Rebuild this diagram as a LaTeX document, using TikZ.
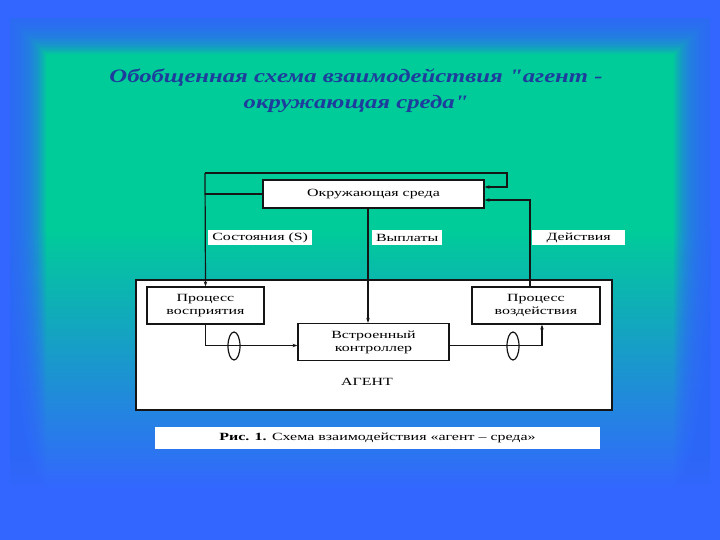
\documentclass[tikz,border=0pt]{standalone}
\usepackage{fontspec}
\setmainfont{Liberation Serif}
\newfontfamily\diagfont[FakeStretch=1.45]{Liberation Serif}
\newfontfamily\titlefont[FakeStretch=1.3]{Liberation Serif}
\usetikzlibrary{
  shapes.geometric,
  arrows.meta,
  positioning,
  calc
}
\definecolor{bgblue}{HTML}{3366FF}
\definecolor{bggreen}{HTML}{00CC99}
\definecolor{titleblue}{HTML}{1E3C9C}
\definecolor{inkblack}{HTML}{151515}
\tikzset{
  block/.style={
    rectangle, draw=inkblack, fill=white, line width=1.2pt,
    font=\diagfont\fontsize{11}{13}\selectfont, align=center, inner sep=1pt
  },
  tag/.style={
    rectangle, fill=white, anchor=west, align=left,
    minimum height=15pt, inner sep=1.5pt,
    font=\diagfont\fontsize{11}{12}\selectfont
  },
  arrow/.style={-{Stealth[length=5pt, width=3.5pt]}, line width=1.2pt, draw=inkblack},
  link/.style={line width=1.2pt, draw=inkblack},
  lens/.style={
    ellipse, draw=inkblack, line width=1.2pt,
    minimum width=12pt, minimum height=28pt, inner sep=0pt
  },
}

\begin{document}
\begin{tikzpicture}[x=1pt, y=-1pt]
\useasboundingbox (0,0) rectangle (720,540);

% background
\fill[bgblue] (0,0) rectangle (720,540);
\fill[bggreen] (10,18) rectangle (710,231);
\fill[top color=bggreen, middle color=bggreen!55!bgblue, bottom color=bgblue]
  (10,230) rectangle (710,490);
\foreach \i in {1,...,20}
  \fill[bgblue, opacity=0.12, even odd rule] (0,0) rectangle (720,540)
    (10+1.8*\i,18+1.8*\i) rectangle (710-1.8*\i,525-1.8*\i);

% title
\node[font=\titlefont\fontsize{19}{26}\selectfont\bfseries\itshape, text=titleblue, align=center] (title)
  at (356,91) {Обобщенная схема взаимодействия "агент -\\окружающая среда"};

% agent frame
\node[block, minimum width=476pt, minimum height=130pt] (agent) at (374,345) {};
\node[font=\diagfont\fontsize{11}{12}\selectfont] (agentlbl) at (367,382) {АГЕНТ};

% blocks
\node[block, minimum width=221pt, minimum height=28pt] (env) at (373.5,194) {Окружающая среда};
\node[block, minimum width=117pt, minimum height=37pt] (perc) at (205.5,305.5) {Процесс\\восприятия};
\node[block, minimum width=128pt, minimum height=37pt] (act) at (536,305.5) {Процесс\\воздействия};
\node[block, minimum width=151pt, minimum height=37pt] (ctrl) at (373.5,342) {Встроенный\\контроллер};

% labels
\node[tag, minimum width=104pt] (states) at (208,237.5) {Состояния (S)};
\node[tag, minimum width=70pt] (pay) at (372,237.5) {Выплаты};
\node[tag, minimum width=93pt] (acts) at (532,237.5) {Действия};

% feedback loop
\coordinate (loopL) at (205,173);
\coordinate (loopR) at (507,173);
\draw[arrow] (loopL) -- (perc.north);
\draw[arrow] (loopL) -- (loopR) |- ([yshift=7pt]env.east);
\draw[link] (env.west) -- (env.west -| loopL);

% rewards and actions
\draw[arrow] ([xshift=-5.5pt]env.south) -- ([xshift=-5.5pt]ctrl.north);
\draw[arrow] ([xshift=-6pt]act.north) |- ([yshift=-6pt]env.east);

% inner flow
\draw[arrow] (perc.south) |- ([yshift=-3.5pt]ctrl.west);
\draw[arrow] ([yshift=-3.5pt]ctrl.east) -| ([xshift=6pt]act.south);
\node[lens] (lensL) at (234,346) {};
\node[lens] (lensR) at (513,346) {};

% caption
\node[rectangle, fill=white, minimum width=445pt, minimum height=22pt,
  font=\diagfont\fontsize{11}{12}\selectfont] (caption) at (377.5,438)
  {\textbf{Рис. 1.} Схема взаимодействия «агент – среда»};

\end{tikzpicture}
\end{document}
